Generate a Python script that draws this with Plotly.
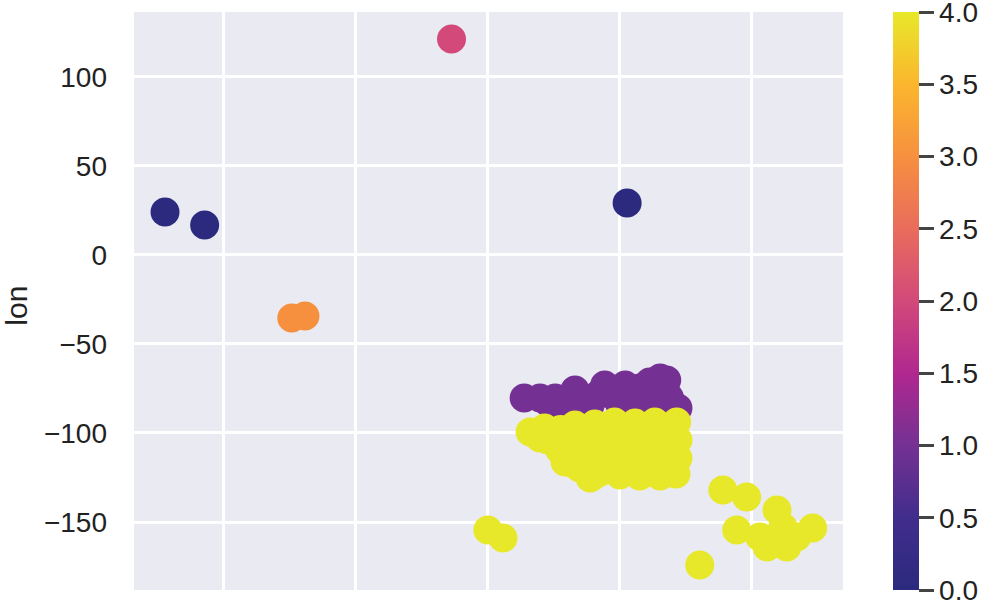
import plotly.graph_objects as go

# cluster 0 (navy)
c0_lat = [-28.9, -22.9, 41.1]
c0_lon = [24.2, 16.9, 29.2]

# cluster 1 (purple) - east coast block
c1_lat = [25.5, 27.9, 30.2, 32.4, 34.7, 37.0, 38.8, 40.8, 43.0, 44.5, 46.1, 47.1,
          48.8, 30.9, 35.5, 41.5, 44.5, 37.7, 33.2, 47.5,
          29.0, 33.0, 36.0, 39.5, 42.0, 45.5, 43.5, 46.5, 40.0]
c1_lon = [-80.3, -80.3, -80.3, -79.8, -81.5, -77.5, -78.7, -73.0, -74.7, -71.3, -69.1, -70.2,
          -86.0, -84.3, -84.3, -81.5, -80.3, -73.0, -75.8, -80.0,
          -82.5, -83.0, -80.0, -76.0, -77.5, -75.0, -84.0, -85.0, -84.0]

# cluster 2 (pink)
c2_lat = [14.5]
c2_lon = [121.3]

# cluster 3 (orange)
c3_lat = [-9.7, -7.7]
c3_lon = [-35.4, -34.3]

# cluster 4 (yellow) - west block, hawaii, alaska
c4_lat = [26.4, 28.6, 29.1, 30.9, 31.7, 33.2, 33.6, 33.9, 36.2, 36.5,
          37.0, 37.0, 39.2, 39.7, 39.2, 40.0, 42.3, 42.7, 42.3, 43.0,
          45.3, 45.3, 45.8, 46.1, 48.6, 48.8, 48.8, 48.5, 35.5, 32.4,
          31.0, 34.5, 38.0, 41.0, 44.0, 47.5, 34.8, 38.2, 41.0, 44.0,
          47.3, 35.0, 38.0, 41.2, 44.2, 47.5, 32.8, 36.0, 45.5, 47.6,
          27.9, 30.2,
          20.0, 22.3,
          55.6, 59.2, 63.8, 57.7, 61.2, 62.3, 65.3, 69.2, 66.8, 64.7, 52.1]
c4_lon = [-99.4, -97.2, -103.9, -109.6, -116.3, -95.5, -106.7, -119.7, -94.9, -103.9,
          -114.0, -121.9, -93.8, -103.9, -114.0, -123.6, -94.4, -103.9, -114.0, -124.2,
          -93.8, -103.9, -114.0, -124.2, -93.8, -103.9, -114.0, -123.0, -125.3, -98.3,
          -98.0, -100.0, -98.5, -99.0, -98.5, -99.0, -111.0, -109.0, -110.0, -109.5,
          -110.0, -118.5, -120.0, -119.0, -120.0, -118.0, -117.0, -124.0, -122.8, -122.3,
          -102.8, -101.7,
          -154.5, -159.0,
          -132.0, -136.0, -143.3, -154.5, -158.4, -164.0, -164.0, -153.4, -158.4, -152.8, -174.2]

groups = [(c0_lat, c0_lon, 0), (c3_lat, c3_lon, 3), (c2_lat, c2_lon, 2),
          (c1_lat, c1_lon, 1), (c4_lat, c4_lon, 4)]

lat, lon, cluster = [], [], []
for la, lo, c in groups:
    lat += la
    lon += lo
    cluster += [c] * len(la)

scale = [
    [0.0, '#2b2a7e'],
    [0.125, '#412d8c'],
    [0.25, '#743193'],
    [0.375, '#b0288f'],
    [0.5, '#d2497a'],
    [0.625, '#e96c5c'],
    [0.75, '#f6903f'],
    [0.875, '#fbb62e'],
    [1.0, '#e8e82a'],
]

font = 'Liberation Sans, Arial, sans-serif'

fig = go.Figure(go.Scatter(
    x=lat, y=lon, mode='markers',
    marker=dict(
        size=29, color=cluster, colorscale=scale, cmin=0, cmax=4,
        line=dict(width=0), opacity=1,
        colorbar=dict(
            x=1.0705, xanchor='left', y=0.5, yanchor='middle', len=1.0,
            thickness=26, xpad=0, ypad=0,
            outlinewidth=0, ticks='outside', ticklen=15, tickwidth=2.5,
            tickcolor='#444', tickvals=[0, 0.5, 1, 1.5, 2, 2.5, 3, 3.5, 4],
            ticktext=['0.0', '0.5', '1.0', '1.5', '2.0', '2.5', '3.0', '3.5', '4.0'],
            ticklabeloverflow='allow',
            tickfont=dict(size=28, color='#222', family=font),
        ),
    ),
    showlegend=False,
))

fig.update_layout(
    width=988, height=606,
    margin=dict(l=134, r=145, t=12, b=16, autoexpand=False),
    paper_bgcolor='white', plot_bgcolor='#eaeaf2',
    font=dict(family=font, size=28, color='#222'),
    xaxis=dict(range=[-33.6, 73.8], tickvals=[-20, 0, 20, 40, 60],
               showticklabels=False, gridcolor='white', gridwidth=2.5,
               zeroline=False, showline=False),
    yaxis=dict(range=[-188.2, 136.5], tickvals=[-150, -100, -50, 0, 50, 100],
               gridcolor='white', gridwidth=2.5, zeroline=False, showline=False,
               ticklabelstandoff=26),
    annotations=[dict(text='lon', textangle=-90, xref='paper', yref='paper',
                      x=-0.165, y=0.492, xanchor='center', yanchor='middle',
                      showarrow=False, font=dict(size=30, color='#222'))],
)

# drop the default page margin so the figure fills the window
fig.write_html('out.html', config={'displayModeBar': False},
               post_script="document.body.style.margin='0';")
